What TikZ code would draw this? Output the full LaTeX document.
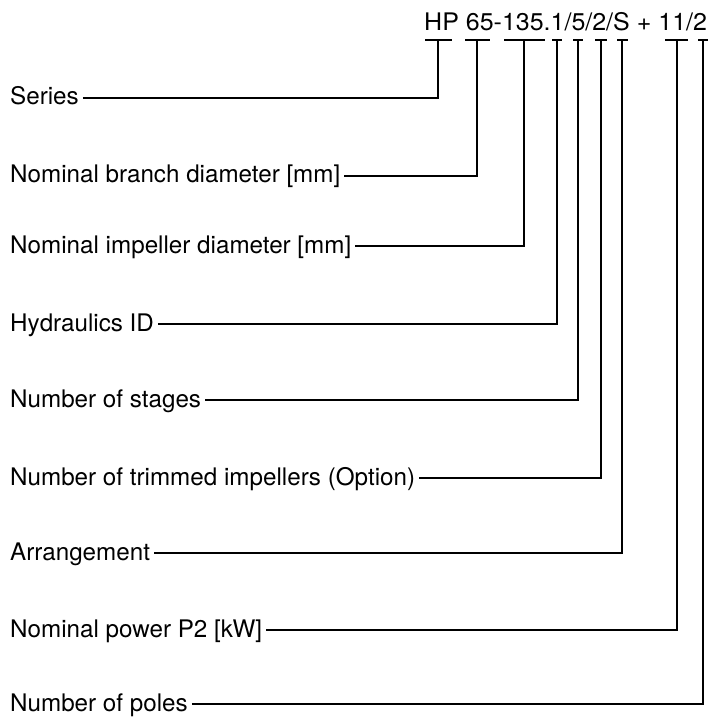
\documentclass[tikz,border=0pt]{standalone}
\usepackage{fontspec}
\setmainfont{TeX Gyre Heros}
\begin{document}
\begin{tikzpicture}[x=1pt,y=-1pt,
  lab/.style={anchor=base west,inner sep=0pt,font=\fontsize{24.2}{28}\selectfont},
  conn/.style={line width=1.7pt,line join=miter},
  bar/.style={line width=1.7pt}]
\useasboundingbox (0,0) rectangle (711,719);
\node[lab] (code) at (424,31) {\scalebox{1.033}[1]{HP 65-135.1/5/2/S + 11/2}};
% tick bars and their centre points
\foreach \n/\a/\b/\c in {t1/425/452/438, t2/465/490/477, t3/504/545/524, t4/552/562/557,
  t5/573/583/578, t6/595/607/601, t7/617/628/622, t8/665/688/677, t9/698/708/703}{
  \draw[bar] (\a,40) -- (\b,40);
  \coordinate (\n) at (\c,40);
}
% labels
\node[lab] (l1) at (10,105) {Series};
\node[lab] (l2) at (10,183) {Nominal branch diameter [mm]};
\node[lab] (l3) at (10,253) {Nominal impeller diameter [mm]};
\node[lab] (l4) at (10,331) {Hydraulics ID};
\node[lab] (l5) at (10,407) {Number of stages};
\node[lab] (l6) at (10,485) {Number of trimmed impellers (Option)};
\node[lab] (l7) at (10,560) {Arrangement};
\node[lab] (l8) at (10,637) {Nominal power P2 [kW]};
\node[lab] (l9) at (10,711) {Number of poles};
% connectors
\foreach \i in {1,...,9}{
  \draw[conn] ([shift={(4pt,7pt)}]l\i.base east) -| (t\i);
}
\end{tikzpicture}
\end{document}
